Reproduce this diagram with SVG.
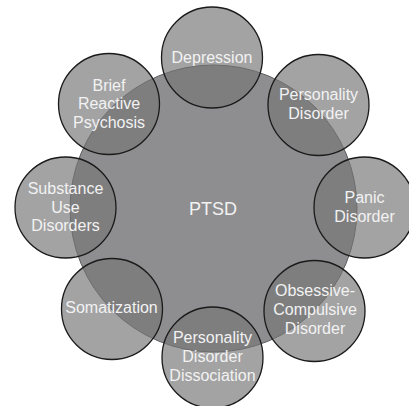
<svg xmlns="http://www.w3.org/2000/svg" width="409" height="406" viewBox="0 0 409 406">
<style>
.big{fill:#8e8e90;stroke:#5a5a5c;stroke-width:1}
.sm{fill:#767678;fill-opacity:0.67;stroke:#1a1a1a;stroke-width:1.3}
text{font-family:"Liberation Sans",Arial,sans-serif;font-size:16px;fill:#f2f2f2;text-anchor:middle}
.c{font-size:18px}
</style>
<rect width="409" height="406" fill="#ffffff"/>
<g id="ptsd"><circle class="big" cx="213.5" cy="208.5" r="143.5"/></g>
<g id="depression"><circle class="sm" cx="212" cy="57.5" r="50.5"/><text x="212" y="62.5">Depression</text></g>
<g id="personality-disorder"><circle class="sm" cx="318.5" cy="105" r="50.5"/><text x="318.5" y="99.5">Personality</text><text x="318.5" y="118.5">Disorder</text></g>
<g id="panic-disorder"><circle class="sm" cx="364.5" cy="207.5" r="50.5"/><text x="364.5" y="202.5">Panic</text><text x="364.5" y="221.5">Disorder</text></g>
<g id="ocd"><circle class="sm" cx="314.5" cy="311" r="50.5"/><text x="315" y="296">Obsessive-</text><text x="315" y="314.5">Compulsive</text><text x="315" y="333.5">Disorder</text></g>
<g id="pd-dissociation"><circle class="sm" cx="212.5" cy="357.5" r="50.5"/><text x="212.5" y="342.5">Personality</text><text x="212.5" y="361.5">Disorder</text><text x="212.5" y="380.5">Dissociation</text></g>
<g id="somatization"><circle class="sm" cx="112" cy="309" r="50.5"/><text x="111.5" y="312.5">Somatization</text></g>
<g id="substance-use"><circle class="sm" cx="65.5" cy="207.5" r="50.5"/><text x="65.5" y="193.5">Substance</text><text x="65.5" y="212.5">Use</text><text x="65.5" y="231">Disorders</text></g>
<g id="brief-reactive"><circle class="sm" cx="109" cy="104" r="50.5"/><text x="109" y="91">Brief</text><text x="109" y="109">Reactive</text><text x="109" y="127.5">Psychosis</text></g>
<g id="ptsd-label"><text class="c" x="213" y="214.8">PTSD</text></g>
<g id="connectors"></g>
</svg>
